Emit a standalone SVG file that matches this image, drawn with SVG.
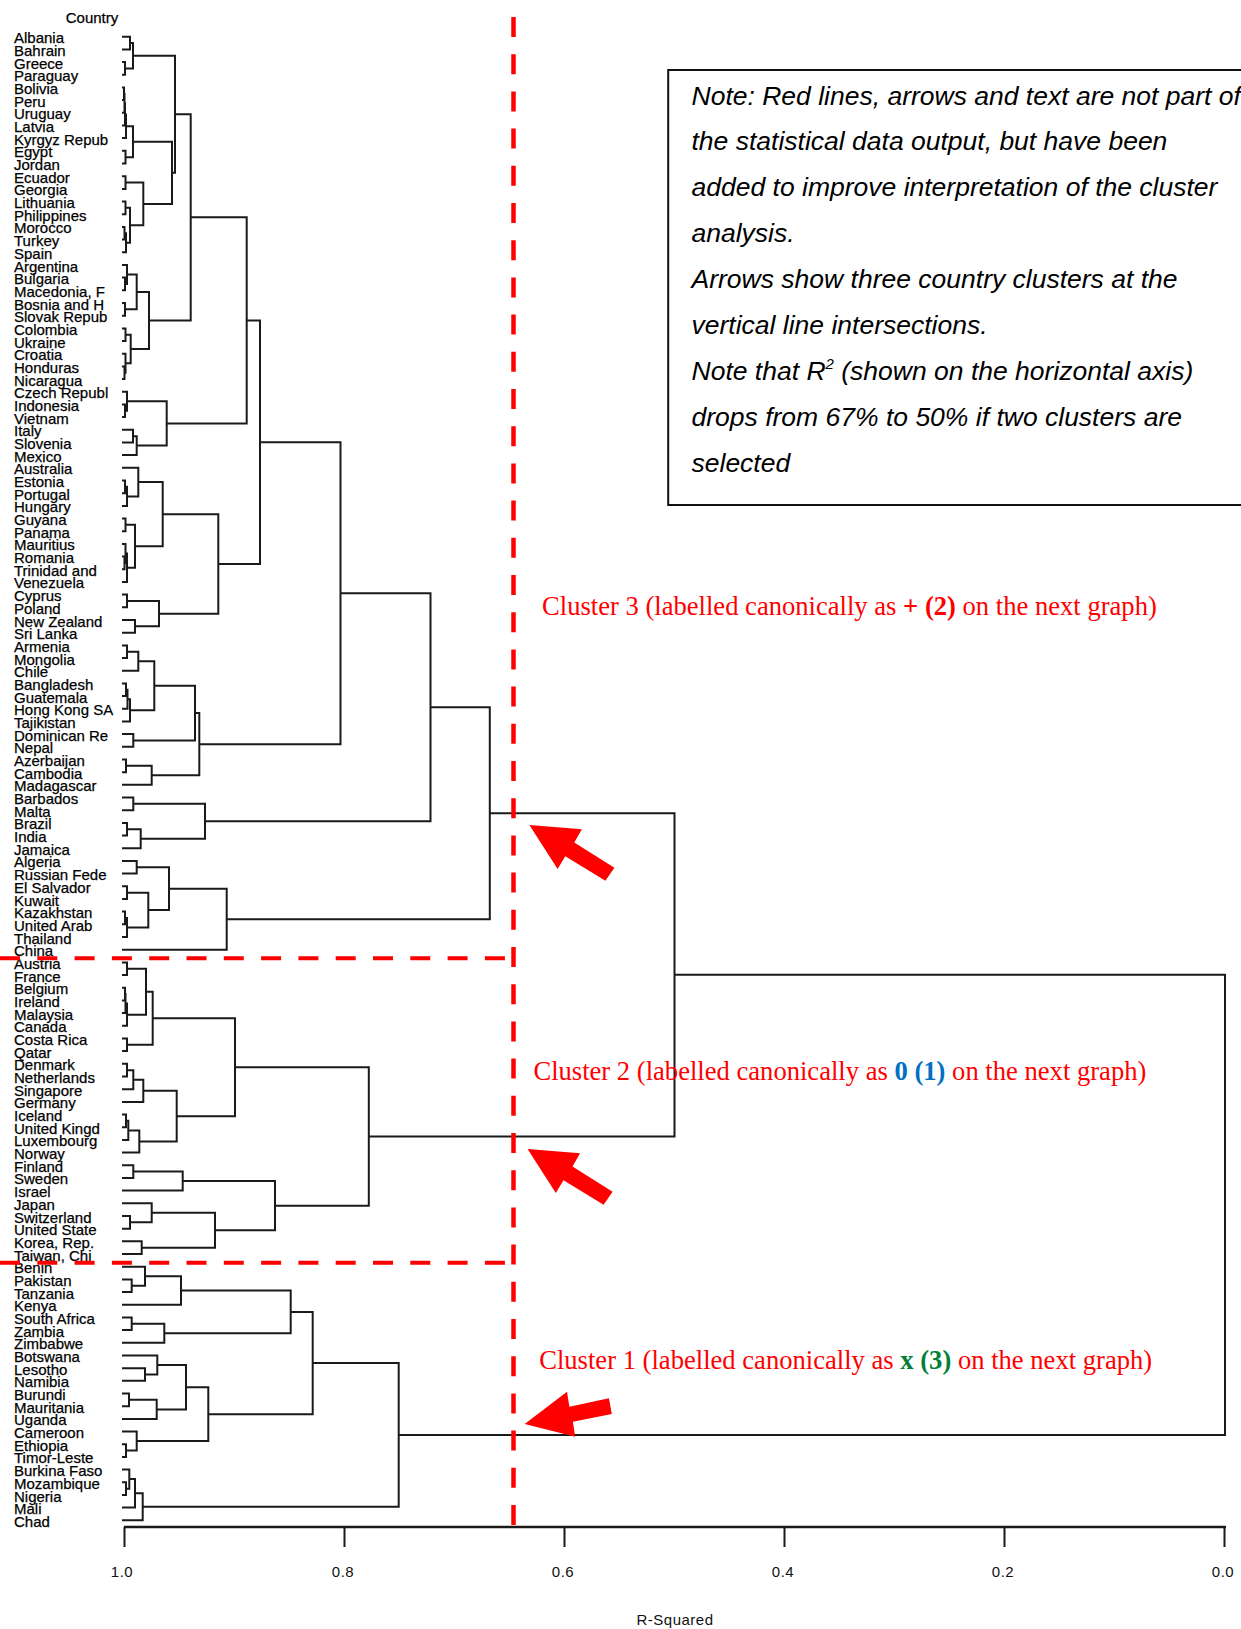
<svg xmlns="http://www.w3.org/2000/svg" xmlns:xlink="http://www.w3.org/1999/xlink" width="1241" height="1629" viewBox="0 0 1241 1629">
<style>
.d{fill:none;stroke:#1a1a1a;stroke-width:2}
.lbl{font-family:"Liberation Sans",Arial,sans-serif;font-size:15px;fill:#000;stroke:#000;stroke-width:0.25}
.rv{fill:none;stroke:#ff0000;stroke-width:4.5;stroke-dasharray:20 17.2}
.rh{fill:none;stroke:#ff0000;stroke-width:4;stroke-dasharray:20 17.3}
.note{font-family:"Liberation Sans",Arial,sans-serif;font-style:italic;font-size:26.5px;fill:#000}
.cl{font-family:"Liberation Serif","Times New Roman",serif;font-size:26.6px;fill:#ff0000}
.ax{font-family:"Liberation Sans",Arial,sans-serif;font-size:15px;fill:#111;text-anchor:middle;letter-spacing:0.5px}
.arr{fill:#ff0000}
</style>
<defs>
<polygon id="arrowUL" points="0,0 52.5,4.3 44.9,17.5 85,42.7 76,55.7 35.9,31.3 28.2,44"/>
</defs>
<rect x="0" y="0" width="1241" height="1629" fill="#ffffff"/>

<g id="connectors" class="d">
<path d="M122 36.7H130V49.4H122"/>
<path d="M122 62.1H125V74.7H122"/>
<path d="M130 43.1H133V68.4H125"/>
<path d="M122 87.4H124V100.1H122"/>
<path d="M124 93.75H124.5V112.8H122"/>
<path d="M124.5 103.3H125V125.5H122"/>
<path d="M125 114.4H126V138.1H122"/>
<path d="M122 150.8H125.5V163.5H122"/>
<path d="M126 126.25H133V157.15H125.5"/>
<path d="M122 176.2H125.5V188.9H122"/>
<path d="M122 201.5H125.5V214.2H122"/>
<path d="M122 226.9H124.5V239.6H122"/>
<path d="M124.5 233.25H126V252.3H122"/>
<path d="M125.5 207.85H130V242.8H126"/>
<path d="M125.5 182.55H143.3V225.3H130"/>
<path d="M133 141.7H172V203.9H143.3"/>
<path d="M133 55.7H175V172.8H172"/>
<path d="M122 277.6H125V290.3H122"/>
<path d="M122 265H127V283.95H125"/>
<path d="M122 303H125V315.7H122"/>
<path d="M127 274.5H136.7V309.35H125"/>
<path d="M122 328.4H125.5V341H122"/>
<path d="M122 366.4H124.5V379.1H122"/>
<path d="M122 353.7H125.5V372.75H124.5"/>
<path d="M125.5 334.7H130.7V363.2H125.5"/>
<path d="M136.7 291.9H149V348.95H130.7"/>
<path d="M175 114.25H190.7V320.4H149"/>
<path d="M122 404.4H125V417.1H122"/>
<path d="M122 391.8H127V410.75H125"/>
<path d="M122 429.8H133V442.5H122"/>
<path d="M133 436.15H136.7V455.1H122"/>
<path d="M127 401.3H166.7V445.6H136.7"/>
<path d="M190.7 217.3H246.7V423.45H166.7"/>
<path d="M122 480.5H125V493.2H122"/>
<path d="M125 486.85H127V505.9H122"/>
<path d="M122 467.8H138.3V496.4H127"/>
<path d="M122 518.5H125.5V531.2H122"/>
<path d="M122 556.6H124.5V569.3H122"/>
<path d="M122 543.9H125.5V562.95H124.5"/>
<path d="M125.5 553.4H127V581.9H122"/>
<path d="M125.5 524.85H135V567.65H127"/>
<path d="M138.3 482.1H162.7V546.25H135"/>
<path d="M122 594.6H127V607.3H122"/>
<path d="M122 620H135V632.7H122"/>
<path d="M127 600.95H159V626.35H135"/>
<path d="M162.7 514.2H218.3V613.65H159"/>
<path d="M246.7 320.4H260V563.9H218.3"/>
<path d="M122 645.4H127V658H122"/>
<path d="M127 651.7H138.3V670.7H122"/>
<path d="M122 683.4H126V696.1H122"/>
<path d="M126 689.75H127.5V708.7H122"/>
<path d="M127.5 699.2H130V721.4H122"/>
<path d="M138.3 661.2H154.3V710.3H130"/>
<path d="M122 734.1H133.3V746.8H122"/>
<path d="M154.3 685.75H195V740.45H133.3"/>
<path d="M122 759.5H126V772.2H122"/>
<path d="M126 765.85H151.7V784.8H122"/>
<path d="M195 713.1H199.3V775.3H151.7"/>
<path d="M260 442.15H340.5V744.2H199.3"/>
<path d="M122 797.5H133.3V810.2H122"/>
<path d="M122 822.9H127V835.6H122"/>
<path d="M127 829.25H140.7V848.2H122"/>
<path d="M133.3 803.85H205V838.7H140.7"/>
<path d="M340.5 593.2H430.5V821.3H205"/>
<path d="M122 860.9H136.7V873.6H122"/>
<path d="M122 886.3H127V899H122"/>
<path d="M122 911.6H125V924.3H122"/>
<path d="M125 917.95H127V937H122"/>
<path d="M127 892.65H148.3V927.5H127"/>
<path d="M136.7 867.25H169V910.1H148.3"/>
<path d="M169 888.7H226.7V949.7H122"/>
<path d="M430.5 707.25H489.8V919.2H226.7"/>
<path d="M122 962.4H127V975H122"/>
<path d="M122 987.7H125V1000.4H122"/>
<path d="M125 994.05H125.5V1013.1H122"/>
<path d="M125.5 1003.6H127V1025.8H122"/>
<path d="M127 968.7H146V1014.7H127"/>
<path d="M122 1038.4H127V1051.1H122"/>
<path d="M146 991.7H152.7V1044.75H127"/>
<path d="M122 1063.8H127V1076.5H122"/>
<path d="M127 1070.15H133.3V1089.2H122"/>
<path d="M133.3 1079.7H143.3V1101.9H122"/>
<path d="M122 1114.5H126V1127.2H122"/>
<path d="M126 1120.85H128.3V1139.9H122"/>
<path d="M128.3 1130.4H139.3V1152.6H122"/>
<path d="M143.3 1090.8H176.7V1141.5H139.3"/>
<path d="M152.7 1018.2H235V1116.15H176.7"/>
<path d="M122 1165.3H133.3V1177.9H122"/>
<path d="M133.3 1171.6H182.7V1190.6H122"/>
<path d="M122 1216H130V1228.7H122"/>
<path d="M122 1203.3H151.7V1222.35H130"/>
<path d="M122 1241.3H141.7V1254H122"/>
<path d="M151.7 1212.8H215V1247.65H141.7"/>
<path d="M182.7 1181.1H275V1230.2H215"/>
<path d="M235 1067.2H368.8V1205.65H275"/>
<path d="M489.8 813.2H674.5V1136.4H368.8"/>
<path d="M122 1279.4H131.7V1292.1H122"/>
<path d="M122 1266.7H145V1285.75H131.7"/>
<path d="M145 1276.2H181V1304.7H122"/>
<path d="M122 1317.4H131.7V1330.1H122"/>
<path d="M131.7 1323.75H164.3V1342.8H122"/>
<path d="M181 1290.45H290.7V1333.3H164.3"/>
<path d="M122 1368.2H145V1380.8H122"/>
<path d="M122 1355.5H157.3V1374.5H145"/>
<path d="M122 1393.5H129V1406.2H122"/>
<path d="M129 1399.85H156.7V1418.9H122"/>
<path d="M157.3 1365H186V1409.4H156.7"/>
<path d="M122 1444.2H126V1456.9H122"/>
<path d="M122 1431.6H136.7V1450.55H126"/>
<path d="M186 1387.2H208.3V1441.1H136.7"/>
<path d="M290.7 1311.9H312.7V1414.15H208.3"/>
<path d="M122 1482.3H126V1495H122"/>
<path d="M122 1469.6H129.3V1488.65H126"/>
<path d="M129.3 1479.1H135V1507.6H122"/>
<path d="M135 1493.35H142.7V1520.3H122"/>
<path d="M312.7 1363H398.7V1506.8H142.7"/>
<path d="M674.5 974.8H1225V1434.9H398.7"/>
</g>

<g id="axis">
<path d="M124 1527H1226" fill="none" stroke="#1a1a1a" stroke-width="2.5"/>
<path d="M124.5 1527V1547M344.5 1527V1547M564.5 1527V1547M784.5 1527V1547M1004.5 1527V1547M1224.5 1527V1547" fill="none" stroke="#1a1a1a" stroke-width="2"/>
<text class="ax" x="122" y="1577">1.0</text>
<text class="ax" x="343" y="1577">0.8</text>
<text class="ax" x="563" y="1577">0.6</text>
<text class="ax" x="783" y="1577">0.4</text>
<text class="ax" x="1003" y="1577">0.2</text>
<text class="ax" x="1223" y="1577">0.0</text>
<text class="ax" x="675" y="1625">R-Squared</text>
</g>

<g id="labels">
<text class="lbl" x="92" y="22.7" text-anchor="middle">Country</text>
<g id="leaf-albania"><text class="lbl" x="14" y="43.2">Albania</text></g>
<g id="leaf-bahrain"><text class="lbl" x="14" y="55.9">Bahrain</text></g>
<g id="leaf-greece"><text class="lbl" x="14" y="68.6">Greece</text></g>
<g id="leaf-paraguay"><text class="lbl" x="14" y="81.2">Paraguay</text></g>
<g id="leaf-bolivia"><text class="lbl" x="14" y="93.9">Bolivia</text></g>
<g id="leaf-peru"><text class="lbl" x="14" y="106.6">Peru</text></g>
<g id="leaf-uruguay"><text class="lbl" x="14" y="119.3">Uruguay</text></g>
<g id="leaf-latvia"><text class="lbl" x="14" y="132">Latvia</text></g>
<g id="leaf-kyrgyz"><text class="lbl" x="14" y="144.6">Kyrgyz Repub</text></g>
<g id="leaf-egypt"><text class="lbl" x="14" y="157.3">Egypt</text></g>
<g id="leaf-jordan"><text class="lbl" x="14" y="170">Jordan</text></g>
<g id="leaf-ecuador"><text class="lbl" x="14" y="182.7">Ecuador</text></g>
<g id="leaf-georgia"><text class="lbl" x="14" y="195.4">Georgia</text></g>
<g id="leaf-lithuania"><text class="lbl" x="14" y="208">Lithuania</text></g>
<g id="leaf-philippines"><text class="lbl" x="14" y="220.7">Philippines</text></g>
<g id="leaf-morocco"><text class="lbl" x="14" y="233.4">Morocco</text></g>
<g id="leaf-turkey"><text class="lbl" x="14" y="246.1">Turkey</text></g>
<g id="leaf-spain"><text class="lbl" x="14" y="258.8">Spain</text></g>
<g id="leaf-argentina"><text class="lbl" x="14" y="271.5">Argentina</text></g>
<g id="leaf-bulgaria"><text class="lbl" x="14" y="284.1">Bulgaria</text></g>
<g id="leaf-macedonia"><text class="lbl" x="14" y="296.8">Macedonia, F</text></g>
<g id="leaf-bosnia"><text class="lbl" x="14" y="309.5">Bosnia and H</text></g>
<g id="leaf-slovak"><text class="lbl" x="14" y="322.2">Slovak Repub</text></g>
<g id="leaf-colombia"><text class="lbl" x="14" y="334.9">Colombia</text></g>
<g id="leaf-ukraine"><text class="lbl" x="14" y="347.5">Ukraine</text></g>
<g id="leaf-croatia"><text class="lbl" x="14" y="360.2">Croatia</text></g>
<g id="leaf-honduras"><text class="lbl" x="14" y="372.9">Honduras</text></g>
<g id="leaf-nicaragua"><text class="lbl" x="14" y="385.6">Nicaragua</text></g>
<g id="leaf-czech"><text class="lbl" x="14" y="398.3">Czech Republ</text></g>
<g id="leaf-indonesia"><text class="lbl" x="14" y="410.9">Indonesia</text></g>
<g id="leaf-vietnam"><text class="lbl" x="14" y="423.6">Vietnam</text></g>
<g id="leaf-italy"><text class="lbl" x="14" y="436.3">Italy</text></g>
<g id="leaf-slovenia"><text class="lbl" x="14" y="449">Slovenia</text></g>
<g id="leaf-mexico"><text class="lbl" x="14" y="461.6">Mexico</text></g>
<g id="leaf-australia"><text class="lbl" x="14" y="474.3">Australia</text></g>
<g id="leaf-estonia"><text class="lbl" x="14" y="487">Estonia</text></g>
<g id="leaf-portugal"><text class="lbl" x="14" y="499.7">Portugal</text></g>
<g id="leaf-hungary"><text class="lbl" x="14" y="512.4">Hungary</text></g>
<g id="leaf-guyana"><text class="lbl" x="14" y="525">Guyana</text></g>
<g id="leaf-panama"><text class="lbl" x="14" y="537.7">Panama</text></g>
<g id="leaf-mauritius"><text class="lbl" x="14" y="550.4">Mauritius</text></g>
<g id="leaf-romania"><text class="lbl" x="14" y="563.1">Romania</text></g>
<g id="leaf-trinidad"><text class="lbl" x="14" y="575.8">Trinidad and</text></g>
<g id="leaf-venezuela"><text class="lbl" x="14" y="588.4">Venezuela</text></g>
<g id="leaf-cyprus"><text class="lbl" x="14" y="601.1">Cyprus</text></g>
<g id="leaf-poland"><text class="lbl" x="14" y="613.8">Poland</text></g>
<g id="leaf-newzealand"><text class="lbl" x="14" y="626.5">New Zealand</text></g>
<g id="leaf-srilanka"><text class="lbl" x="14" y="639.2">Sri Lanka</text></g>
<g id="leaf-armenia"><text class="lbl" x="14" y="651.9">Armenia</text></g>
<g id="leaf-mongolia"><text class="lbl" x="14" y="664.5">Mongolia</text></g>
<g id="leaf-chile"><text class="lbl" x="14" y="677.2">Chile</text></g>
<g id="leaf-bangladesh"><text class="lbl" x="14" y="689.9">Bangladesh</text></g>
<g id="leaf-guatemala"><text class="lbl" x="14" y="702.6">Guatemala</text></g>
<g id="leaf-hongkong"><text class="lbl" x="14" y="715.2">Hong Kong SA</text></g>
<g id="leaf-tajikistan"><text class="lbl" x="14" y="727.9">Tajikistan</text></g>
<g id="leaf-dominican"><text class="lbl" x="14" y="740.6">Dominican Re</text></g>
<g id="leaf-nepal"><text class="lbl" x="14" y="753.3">Nepal</text></g>
<g id="leaf-azerbaijan"><text class="lbl" x="14" y="766">Azerbaijan</text></g>
<g id="leaf-cambodia"><text class="lbl" x="14" y="778.7">Cambodia</text></g>
<g id="leaf-madagascar"><text class="lbl" x="14" y="791.3">Madagascar</text></g>
<g id="leaf-barbados"><text class="lbl" x="14" y="804">Barbados</text></g>
<g id="leaf-malta"><text class="lbl" x="14" y="816.7">Malta</text></g>
<g id="leaf-brazil"><text class="lbl" x="14" y="829.4">Brazil</text></g>
<g id="leaf-india"><text class="lbl" x="14" y="842.1">India</text></g>
<g id="leaf-jamaica"><text class="lbl" x="14" y="854.7">Jamaica</text></g>
<g id="leaf-algeria"><text class="lbl" x="14" y="867.4">Algeria</text></g>
<g id="leaf-russia"><text class="lbl" x="14" y="880.1">Russian Fede</text></g>
<g id="leaf-elsalvador"><text class="lbl" x="14" y="892.8">El Salvador</text></g>
<g id="leaf-kuwait"><text class="lbl" x="14" y="905.5">Kuwait</text></g>
<g id="leaf-kazakhstan"><text class="lbl" x="14" y="918.1">Kazakhstan</text></g>
<g id="leaf-uae"><text class="lbl" x="14" y="930.8">United Arab</text></g>
<g id="leaf-thailand"><text class="lbl" x="14" y="943.5">Thailand</text></g>
<g id="leaf-china"><text class="lbl" x="14" y="956.2">China</text></g>
<g id="leaf-austria"><text class="lbl" x="14" y="968.9">Austria</text></g>
<g id="leaf-france"><text class="lbl" x="14" y="981.5">France</text></g>
<g id="leaf-belgium"><text class="lbl" x="14" y="994.2">Belgium</text></g>
<g id="leaf-ireland"><text class="lbl" x="14" y="1006.9">Ireland</text></g>
<g id="leaf-malaysia"><text class="lbl" x="14" y="1019.6">Malaysia</text></g>
<g id="leaf-canada"><text class="lbl" x="14" y="1032.3">Canada</text></g>
<g id="leaf-costarica"><text class="lbl" x="14" y="1044.9">Costa Rica</text></g>
<g id="leaf-qatar"><text class="lbl" x="14" y="1057.6">Qatar</text></g>
<g id="leaf-denmark"><text class="lbl" x="14" y="1070.3">Denmark</text></g>
<g id="leaf-netherlands"><text class="lbl" x="14" y="1083">Netherlands</text></g>
<g id="leaf-singapore"><text class="lbl" x="14" y="1095.7">Singapore</text></g>
<g id="leaf-germany"><text class="lbl" x="14" y="1108.4">Germany</text></g>
<g id="leaf-iceland"><text class="lbl" x="14" y="1121">Iceland</text></g>
<g id="leaf-uk"><text class="lbl" x="14" y="1133.7">United Kingd</text></g>
<g id="leaf-luxembourg"><text class="lbl" x="14" y="1146.4">Luxembourg</text></g>
<g id="leaf-norway"><text class="lbl" x="14" y="1159.1">Norway</text></g>
<g id="leaf-finland"><text class="lbl" x="14" y="1171.8">Finland</text></g>
<g id="leaf-sweden"><text class="lbl" x="14" y="1184.4">Sweden</text></g>
<g id="leaf-israel"><text class="lbl" x="14" y="1197.1">Israel</text></g>
<g id="leaf-japan"><text class="lbl" x="14" y="1209.8">Japan</text></g>
<g id="leaf-switzerland"><text class="lbl" x="14" y="1222.5">Switzerland</text></g>
<g id="leaf-us"><text class="lbl" x="14" y="1235.2">United State</text></g>
<g id="leaf-korea"><text class="lbl" x="14" y="1247.8">Korea, Rep.</text></g>
<g id="leaf-taiwan"><text class="lbl" x="14" y="1260.5">Taiwan, Chi</text></g>
<g id="leaf-benin"><text class="lbl" x="14" y="1273.2">Benin</text></g>
<g id="leaf-pakistan"><text class="lbl" x="14" y="1285.9">Pakistan</text></g>
<g id="leaf-tanzania"><text class="lbl" x="14" y="1298.6">Tanzania</text></g>
<g id="leaf-kenya"><text class="lbl" x="14" y="1311.2">Kenya</text></g>
<g id="leaf-southafrica"><text class="lbl" x="14" y="1323.9">South Africa</text></g>
<g id="leaf-zambia"><text class="lbl" x="14" y="1336.6">Zambia</text></g>
<g id="leaf-zimbabwe"><text class="lbl" x="14" y="1349.3">Zimbabwe</text></g>
<g id="leaf-botswana"><text class="lbl" x="14" y="1362">Botswana</text></g>
<g id="leaf-lesotho"><text class="lbl" x="14" y="1374.7">Lesotho</text></g>
<g id="leaf-namibia"><text class="lbl" x="14" y="1387.3">Namibia</text></g>
<g id="leaf-burundi"><text class="lbl" x="14" y="1400">Burundi</text></g>
<g id="leaf-mauritania"><text class="lbl" x="14" y="1412.7">Mauritania</text></g>
<g id="leaf-uganda"><text class="lbl" x="14" y="1425.4">Uganda</text></g>
<g id="leaf-cameroon"><text class="lbl" x="14" y="1438.1">Cameroon</text></g>
<g id="leaf-ethiopia"><text class="lbl" x="14" y="1450.7">Ethiopia</text></g>
<g id="leaf-timor"><text class="lbl" x="14" y="1463.4">Timor-Leste</text></g>
<g id="leaf-burkina"><text class="lbl" x="14" y="1476.1">Burkina Faso</text></g>
<g id="leaf-mozambique"><text class="lbl" x="14" y="1488.8">Mozambique</text></g>
<g id="leaf-nigeria"><text class="lbl" x="14" y="1501.5">Nigeria</text></g>
<g id="leaf-mali"><text class="lbl" x="14" y="1514.1">Mali</text></g>
<g id="leaf-chad"><text class="lbl" x="14" y="1526.8">Chad</text></g>
</g>

<g id="cutlines">
<path class="rv" d="M513.5 17V1527"/>
<path class="rh" d="M0 958.3H511"/>
<path class="rh" d="M0 1262.7H511"/>
</g>

<g id="note">
<rect x="668.2" y="70" width="590" height="435" fill="none" stroke="#111" stroke-width="2"/>
<text class="note" x="691.5" y="104.5">Note: Red lines, arrows and text are not part of</text>
<text class="note" x="691.5" y="150.4">the statistical data output, but have been</text>
<text class="note" x="691.5" y="196.3">added to improve interpretation of the cluster</text>
<text class="note" x="691.5" y="242.2">analysis.</text>
<text class="note" x="691.5" y="288.1">Arrows show three country clusters at the</text>
<text class="note" x="691.5" y="334">vertical line intersections.</text>
<text class="note" x="691.5" y="379.9">Note that R<tspan font-size="15" dy="-11">2</tspan><tspan dy="11"> (shown on the horizontal axis)</tspan></text>
<text class="note" x="691.5" y="425.8">drops from 67% to 50% if two clusters are</text>
<text class="note" x="691.5" y="471.7">selected</text>
</g>

<g id="cluster3">
<text class="cl" x="542" y="615">Cluster 3 (labelled canonically as <tspan font-weight="bold">+ (2)</tspan> on the next graph)</text>
<use xlink:href="#arrowUL" class="arr" transform="translate(529.4 825)"/>
</g>
<g id="cluster2">
<text class="cl" x="533.4" y="1080">Cluster 2 (labelled canonically as <tspan font-weight="bold" fill="#0070c0">0 (1)</tspan> on the next graph)</text>
<use xlink:href="#arrowUL" class="arr" transform="translate(527.6 1149)"/>
</g>
<g id="cluster1">
<text class="cl" x="539.2" y="1369.3">Cluster 1 (labelled canonically as <tspan font-weight="bold" fill="#008037">x (3)</tspan> on the next graph)</text>
<polygon class="arr" points="524.7,1424 567,1391.7 569.4,1406.7 608.9,1398.3 611.8,1414 572.9,1421.7 575.2,1436.7"/>
</g>
</svg>
